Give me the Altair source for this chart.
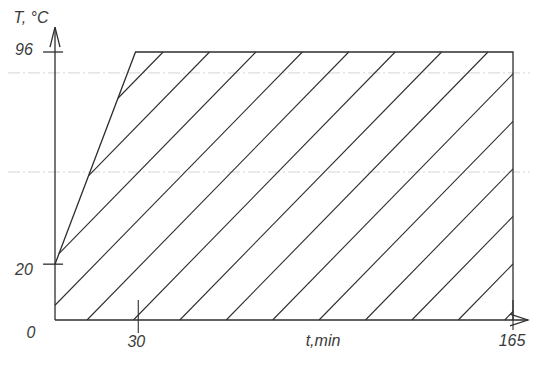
import altair as alt
import pandas as pd
import numpy as np

# ---- data ----
profile_t = [0, 29, 165, 165]          # min
profile_T = [20, 96, 96, 0]            # °C
x_ticks = [30, 165]
x_tick_labels = ["30", "165"]
y_ticks = [20, 96]
y_tick_labels = ["20", "96"]
zero_label = "0"
x_title = "t,min"
y_title = "T, °C"
paper_lines_T = [88.5, 53.0]           # faint ruled lines of the scanned sheet

# ---- style / layout ----
INK = "#2e2e2e"
FONT = "Liberation Sans"
FS = 16
W, H = 522, 342
PX_PER_MIN = 2.7758
PX_PER_DEG = 2.7917
X0, Y0 = 47, 312                       # origin position inside the view
xdom = [-X0 / PX_PER_MIN, (W - X0) / PX_PER_MIN]
ydom = [-(H - Y0) / PX_PER_DEG, Y0 / PX_PER_DEG]
xs = alt.Scale(domain=xdom, nice=False, zero=False)
ys = alt.Scale(domain=ydom, nice=False, zero=False)
X_END = 170.4                          # end of t axis (arrow tip)
Y_END = 104.9                          # end of T axis (arrow tip)

HATCH_SLOPE = 1.018
HATCH_STEP = 16.72
HATCH_OFFSET = 11.53

# ---- hatch pattern clipped to the profile polygon ----
poly = [(0.0, 0.0)] + list(zip(profile_t, profile_T))


def clip(tb):
    p0 = np.array([tb, 0.0])
    d = np.array([1.0, HATCH_SLOPE])
    ss = []
    n = len(poly)
    for i in range(n):
        A = np.array(poly[i], dtype=float)
        B = np.array(poly[(i + 1) % n], dtype=float)
        e = B - A
        den = d[0] * e[1] - d[1] * e[0]
        if abs(den) < 1e-12:
            continue
        w = A - p0
        s = (w[0] * e[1] - w[1] * e[0]) / den
        u = (w[0] * d[1] - w[1] * d[0]) / den
        if -1e-9 <= u <= 1 + 1e-9:
            ss.append(s)
    if len(ss) < 2:
        return None
    s1, s2 = min(ss), max(ss)
    if s2 - s1 < 1e-6:
        return None
    return dict(t1=tb + s1, T1=HATCH_SLOPE * s1, t2=tb + s2, T2=HATCH_SLOPE * s2)


hatch_rows = []
for k in range(-10, 14):
    r = clip(HATCH_OFFSET + HATCH_STEP * k)
    if r:
        hatch_rows.append(r)
hatch_df = pd.DataFrame(hatch_rows)

prof_df = pd.DataFrame({"t": profile_t, "T": profile_T, "o": range(len(profile_t))})

base_x = lambda f: alt.X(f, type="quantitative", scale=xs, axis=None)
base_y = lambda f: alt.Y(f, type="quantitative", scale=ys, axis=None)

paper = alt.Chart(pd.DataFrame({"T": paper_lines_T})).mark_rule(
    color="#d4d4d4", strokeWidth=1, strokeDash=[12, 3, 2, 3]
).encode(x=alt.value(0), x2=alt.value(W), y=base_y("T"))

hatch = alt.Chart(hatch_df).mark_rule(color=INK, strokeWidth=1.1).encode(
    x=base_x("t1"), y=base_y("T1"), x2="t2", y2="T2"
)

profile = alt.Chart(prof_df).mark_line(color=INK, strokeWidth=1.3).encode(
    x=base_x("t"), y=base_y("T"), order="o"
)

axes_df = pd.DataFrame({"t1": [0, 0], "T1": [0, 0], "t2": [X_END, 0], "T2": [0, Y_END]})
axes = alt.Chart(axes_df).mark_rule(color=INK, strokeWidth=1.3).encode(
    x=base_x("t1"), y=base_y("T1"), x2="t2", y2="T2"
)

arrow_y = alt.Chart(pd.DataFrame({"t": [0], "T": [Y_END]})).mark_point(
    shape="M -0.5 2 L 0 0 L 0.5 2", size=400, filled=False, color=INK, strokeWidth=1.3, opacity=1
).encode(x=base_x("t"), y=base_y("T"))

arrow_x = alt.Chart(pd.DataFrame({"t": [X_END], "T": [0]})).mark_point(
    shape="M -2 -0.65 L 0 0 L -2 0.65", size=324, filled=False, color=INK, strokeWidth=1.3, opacity=1
).encode(x=base_x("t"), y=base_y("T"))

xt_df = pd.DataFrame({"t": x_ticks, "lab": x_tick_labels, "lo": [-4.7, -3.6], "hi": [7.2, 7.2]})
xticks = alt.Chart(xt_df).mark_rule(color=INK, strokeWidth=1.1).encode(
    x=base_x("t"), y=base_y("lo"), y2="hi"
)
yt_df = pd.DataFrame({"T": y_ticks, "lab": y_tick_labels, "lo": [-4.3, -4.3], "hi": [2.9, 2.9]})
yticks = alt.Chart(yt_df).mark_rule(color=INK, strokeWidth=1.3).encode(
    y=base_y("T"), x=base_x("lo"), x2="hi"
)

txt = dict(font=FONT, fontStyle="italic", fontSize=FS, color="#3a3a3a", align="center", baseline="middle")

lab30 = alt.Chart(xt_df.iloc[[0]]).mark_text(dx=-2, **txt).encode(
    x=base_x("t"), y=alt.value(334), text="lab"
)
lab165 = alt.Chart(xt_df.iloc[[1]]).mark_text(dx=-1, **txt).encode(
    x=base_x("t"), y=alt.value(333), text="lab"
)
lab20 = alt.Chart(yt_df.iloc[[0]]).mark_text(dy=6, **txt).encode(
    y=base_y("T"), x=alt.value(16), text="lab"
)
lab96 = alt.Chart(yt_df.iloc[[1]]).mark_text(dy=-2, **txt).encode(
    y=base_y("T"), x=alt.value(16), text="lab"
)
lab0 = alt.Chart(pd.DataFrame({"T": [0], "lab": [zero_label]})).mark_text(dy=13, **txt).encode(
    y=base_y("T"), x=alt.value(23), text="lab"
)
xtitle = alt.Chart(pd.DataFrame({"lab": [x_title]})).mark_text(**txt).encode(
    x=alt.value(315), y=alt.value(333), text="lab"
)
ytitle = alt.Chart(pd.DataFrame({"lab": [y_title]})).mark_text(**txt).encode(
    x=alt.value(23), y=alt.value(10), text="lab"
)

chart = alt.layer(
    paper, hatch, profile, axes, arrow_y, arrow_x, xticks, yticks,
    lab30, lab165, lab20, lab96, lab0, xtitle, ytitle
).properties(
    width=W, height=H, autosize=alt.AutoSizeParams(type="none"), padding=0
).configure_view(strokeWidth=0)

chart.save("out.html", embed_options={"renderer": "svg", "actions": False})
